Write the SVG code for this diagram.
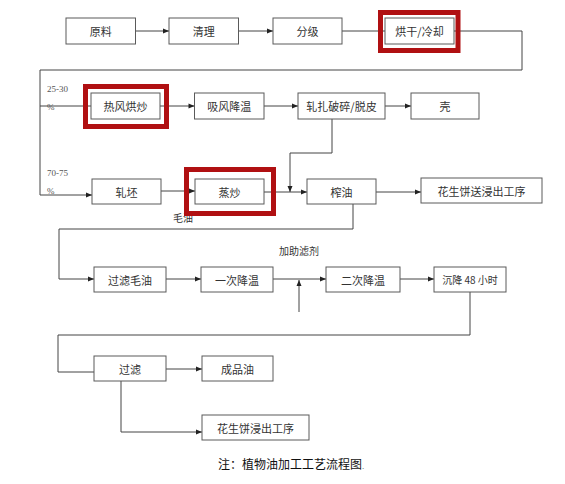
<svg xmlns="http://www.w3.org/2000/svg" width="565" height="484" viewBox="0 0 565 484">
<style>
.box{fill:#fff;stroke:#5a5a5a;stroke-width:1}
.t{font-family:"Noto Sans CJK SC","Liberation Sans",sans-serif;font-size:11px;fill:#333;text-anchor:middle;dominant-baseline:central}
.s{font-size:10px}
.lab{font-family:"Liberation Serif",serif;font-size:9px;fill:#555}
.ln{fill:none;stroke:#444;stroke-width:1}
.red{fill:none;stroke:#b01012;stroke-width:5}
.cap{font-family:"Noto Sans CJK SC","Liberation Sans",sans-serif;font-size:12px;fill:#111}
</style>
<defs>
<marker id="a" markerUnits="userSpaceOnUse" markerWidth="8" markerHeight="8" refX="7" refY="4" orient="auto">
<path d="M1,1.5 L7,4 L1,6.5 Z" fill="#222"/>
</marker>
</defs>
<g id="connectors">
<path class="ln" d="M135.5,31 H169" marker-end="url(#a)"/>
<path class="ln" d="M238.5,31 H273" marker-end="url(#a)"/>
<path class="ln" d="M342,31 H385"/>
<path class="ln" d="M454,31 H522 V70 H40 V195 H92" marker-end="url(#a)"/>
<path class="ln" d="M40,106 H91"/>
<path class="ln" d="M160,106 H194.5" marker-end="url(#a)"/>
<path class="ln" d="M264,106 H298" marker-end="url(#a)"/>
<path class="ln" d="M385,106 H411" marker-end="url(#a)"/>
<path class="ln" d="M332,119 V153 H290 V192" marker-end="url(#a)"/>
<path class="ln" d="M161,191 H195" marker-end="url(#a)"/>
<path class="ln" d="M264,192 H307" marker-end="url(#a)"/>
<path class="ln" d="M376,192 H421" marker-end="url(#a)"/>
<path class="ln" d="M353,204 V229 H59 V279 H94" marker-end="url(#a)"/>
<path class="ln" d="M166,279 H201" marker-end="url(#a)"/>
<path class="ln" d="M273,279 H326" marker-end="url(#a)"/>
<path class="ln" d="M299,312 V280" marker-end="url(#a)"/>
<path class="ln" d="M400,279 H434" marker-end="url(#a)"/>
<path class="ln" d="M470,292 V335 H58 V372 H94"/>
<path class="ln" d="M166,369 H202" marker-end="url(#a)"/>
<path class="ln" d="M121,381 V432 H202" marker-end="url(#a)"/>
</g>
<g id="labels">
<text class="lab" x="47" y="92">25-30</text>
<text class="lab" x="47" y="110">%</text>
<text class="lab" x="47" y="176">70-75</text>
<text class="lab" x="47" y="194">%</text>
<text class="t s" x="183" y="217">毛油</text>
<text class="t s" x="299" y="250">加助滤剂</text>
</g>
<g id="n1"><rect class="box" x="66" y="18" width="69.5" height="26"/><text class="t" x="100.7" y="31">原料</text></g>
<g id="n2"><rect class="box" x="169" y="18" width="69.5" height="26"/><text class="t" x="203.7" y="31">清理</text></g>
<g id="n3"><rect class="box" x="273" y="18" width="69" height="26"/><text class="t" x="307.5" y="31">分级</text></g>
<g id="n4"><rect class="box" x="385" y="18" width="69" height="26"/><text class="t" x="419.5" y="31">烘干/冷却</text></g>
<g id="n5"><rect class="box" x="91" y="93" width="69" height="26"/><text class="t" x="125.5" y="106">热风烘炒</text></g>
<g id="n6"><rect class="box" x="194.5" y="93" width="69.5" height="26"/><text class="t" x="229.2" y="106">吸风降温</text></g>
<g id="n7"><rect class="box" x="298" y="93" width="87" height="26"/><text class="t" x="341.5" y="106">轧扎破碎/脱皮</text></g>
<g id="n8"><rect class="box" x="411" y="93" width="68" height="26"/><text class="t" x="445" y="106">壳</text></g>
<g id="n9"><rect class="box" x="92" y="179" width="69" height="25"/><text class="t" x="126.5" y="191.5">轧坯</text></g>
<g id="n10"><rect class="box" x="195" y="179" width="69" height="25"/><text class="t" x="229.5" y="191.5">蒸炒</text></g>
<g id="n11"><rect class="box" x="307" y="179" width="69" height="25"/><text class="t" x="341.5" y="191.5">榨油</text></g>
<g id="n12"><rect class="box" x="421" y="178" width="121" height="25"/><text class="t" x="481.5" y="190.5">花生饼送浸出工序</text></g>
<g id="n13"><rect class="box" x="94" y="267" width="72" height="25"/><text class="t" x="130" y="279.5">过滤毛油</text></g>
<g id="n14"><rect class="box" x="201" y="267" width="72" height="25"/><text class="t" x="237" y="279.5">一次降温</text></g>
<g id="n15"><rect class="box" x="326" y="267" width="74" height="25"/><text class="t" x="363" y="279.5">二次降温</text></g>
<g id="n16"><rect class="box" x="434" y="267" width="72" height="25"/><text class="t s" x="470" y="279.5">沉降 48 小时</text></g>
<g id="n17"><rect class="box" x="94" y="356" width="72" height="25"/><text class="t" x="130" y="368.5">过滤</text></g>
<g id="n18"><rect class="box" x="202" y="356" width="71" height="25"/><text class="t" x="237.5" y="368.5">成品油</text></g>
<g id="n19"><rect class="box" x="202" y="415" width="107" height="25"/><text class="t" x="255.5" y="427.5">花生饼浸出工序</text></g>
<g id="highlights">
<rect class="red" x="380.5" y="12.5" width="77.5" height="38"/>
<rect class="red" x="85.5" y="86.5" width="81" height="40"/>
<rect class="red" x="186.5" y="169.5" width="87" height="44"/>
</g>
<g id="caption">
<text class="cap" x="218" y="469">注：植物油加工工艺流程图</text>
<text class="lab" x="362" y="469">.</text>
</g>
</svg>
